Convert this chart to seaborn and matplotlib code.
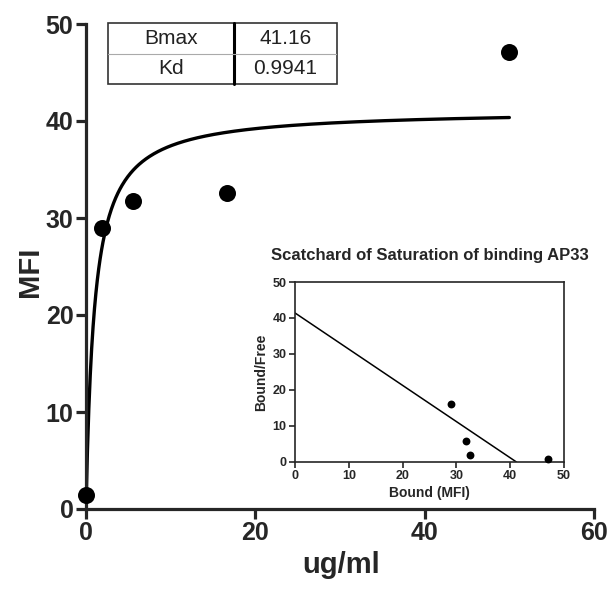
import numpy as np
import pandas as pd
import matplotlib
matplotlib.use("Agg")
import matplotlib.pyplot as plt
import seaborn as sns

# ---- data ----
conc = [0.0, 1.85, 5.56, 16.67, 50.0]          # ug/ml
mfi = [1.4, 29.0, 31.8, 32.6, 47.1]            # MFI
bound = [29.0, 31.8, 32.6, 47.1]               # Scatchard x (Bound, MFI)
bound_free = [16.0, 5.7, 2.0, 0.94]            # Scatchard y (Bound/Free)
Bmax = 41.16
Kd = 0.9941
table_labels = ["Bmax", "Kd"]
table_values = ["41.16", "0.9941"]
main_xticks = [0, 20, 40, 60]
main_yticks = [0, 10, 20, 30, 40, 50]
inset_ticks = [0, 10, 20, 30, 40, 50]

sns.set_style("ticks")
plt.rcParams["font.family"] = ["Liberation Sans", "DejaVu Sans"]

W, H = 611, 589
fig = plt.figure(figsize=(W / 100, H / 100), dpi=100)

def fx(px):
    return px / W

def fy(py):
    return 1 - py / H

# ---- main axes ----
L, R, T, B = 86, 594, 24, 509
ax = fig.add_axes([fx(L), fy(B), fx(R) - fx(L), fy(T) - fy(B)])
pts = pd.DataFrame({"conc": conc, "mfi": mfi})
xs = np.linspace(0, max(conc), 600)
curve = pd.DataFrame({"x": xs, "y": Bmax * xs / (Kd + xs)})
sns.lineplot(data=curve, x="x", y="y", ax=ax, color="black", linewidth=2.4)
sns.scatterplot(data=pts, x="conc", y="mfi", ax=ax, color="black", s=150,
                edgecolor="black", linewidth=0, clip_on=False, zorder=5)
ax.set_xlim(0, 60)
ax.set_ylim(0, 50)
ax.set_xticks(main_xticks)
ax.set_yticks(main_yticks)
sns.despine(ax=ax)
for s in ["left", "bottom"]:
    ax.spines[s].set_linewidth(2.3)
ax.tick_params(axis="both", length=7, width=2.3, labelsize=18, pad=2)
for lab in ax.get_xticklabels() + ax.get_yticklabels():
    lab.set_fontweight("bold")
ax.set_xlabel("ug/ml", fontsize=21, fontweight="bold")
ax.set_ylabel("MFI", fontsize=21, fontweight="bold")
ax.xaxis.label.set_va("center")
ax.yaxis.label.set_va("center")
ax.xaxis.set_label_coords((341 - L) / (R - L), -(565 - B) / (B - T))
ax.yaxis.set_label_coords(-(L - 30) / (R - L), (B - 272) / (B - T))

# ---- table ----
tax = fig.add_axes([fx(108), fy(84), fx(337) - fx(108), fy(23) - fy(84)])
tax.set_xlim(0, 1)
tax.set_ylim(0, 1)
tax.axis("off")
tax.add_patch(plt.Rectangle((0, 0), 1, 1, fill=False, edgecolor="#333333", linewidth=1.2,
                            clip_on=False))
xdiv = (234 - 108) / (337 - 108)
tax.plot([xdiv, xdiv], [0, 1], color="black", linewidth=2.2, clip_on=False)
tax.plot([0, 1], [0.5, 0.5], color="#aaaaaa", linewidth=0.8)
for i, (l, v) in enumerate(zip(table_labels, table_values)):
    yc = 0.75 - 0.5 * i
    tax.text(xdiv / 2, yc, l, ha="center", va="center", fontsize=15, color="#222222")
    tax.text((xdiv + 1) / 2, yc, v, ha="center", va="center", fontsize=15, color="#222222")

# ---- inset Scatchard ----
iax = fig.add_axes([fx(295), fy(462), fx(564) - fx(295), fy(282) - fy(462)])
sc = pd.DataFrame({"bound": bound, "bf": bound_free})
lx = np.array([0.0, Bmax])
sline = pd.DataFrame({"x": lx, "y": (Bmax - lx) / Kd})
sns.lineplot(data=sline, x="x", y="y", ax=iax, color="black", linewidth=1.1)
sns.scatterplot(data=sc, x="bound", y="bf", ax=iax, color="black", s=32,
                linewidth=0, clip_on=False, zorder=5)
iax.set_xlim(0, 50)
iax.set_ylim(0, 50)
iax.set_xticks(inset_ticks)
iax.set_yticks(inset_ticks)
for s in iax.spines.values():
    s.set_linewidth(1.2)
iax.tick_params(axis="both", length=4, width=1.2, labelsize=9, pad=2)
for lab in iax.get_xticklabels() + iax.get_yticklabels():
    lab.set_fontweight("bold")
iax.set_xlabel("Bound (MFI)", fontsize=10, fontweight="bold", labelpad=3)
iax.set_ylabel("Bound/Free", fontsize=10, fontweight="bold", labelpad=3)
iax.set_title("Scatchard of Saturation of binding AP33", fontsize=12, fontweight="bold",
              pad=16)

fig.savefig("out.png", dpi=100)
